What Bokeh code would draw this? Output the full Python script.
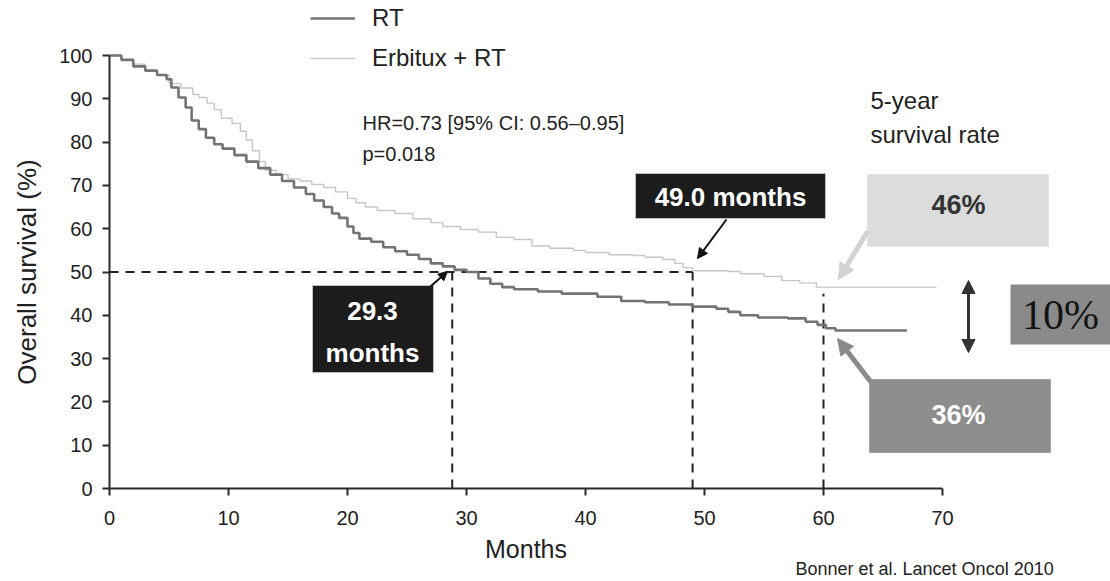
from bokeh.plotting import figure
from bokeh.models import Range1d, Label, Arrow, NormalHead, Legend, LegendItem, FixedTicker
from bokeh.embed import file_html
from bokeh.resources import INLINE

# ---- data ----
rt_months = [0, 1, 2, 3, 4, 4.8, 5.2, 5.8, 6.4, 6.9, 7.5, 8.1, 8.8, 9.5, 10.5, 11.5, 12.5,
             13.5, 14.5, 15.5, 16.5, 17.2, 18, 18.7, 19.3, 20, 20.5, 21, 22, 23, 24, 25,
             26, 27, 28, 29, 30, 31, 32, 33, 34, 36, 38, 41, 43, 45, 47, 49, 51, 52, 53,
             54.5, 57, 58.5, 59.5, 60.2, 61, 67]
rt_surv = [100, 99, 97.5, 96.5, 95.5, 94.5, 92.6, 90.3, 88, 85, 83, 81, 79.5, 78.5, 77, 75.5,
           74, 72.5, 71, 69.5, 68, 66.5, 65, 63.5, 62.5, 60.5, 59, 57.7, 57, 55.7, 54.8, 54,
           53, 52, 51.3, 50.5, 50, 48.5, 47.3, 46.5, 46, 45.5, 45, 44.3, 43.3, 43, 42.5, 42,
           41.5, 40.8, 40, 39.5, 39.3, 38.5, 37.8, 37, 36.5, 36.5]

erb_months = [0, 1, 2, 3, 4, 5, 6, 7, 7.5, 8.2, 8.8, 9.4, 10.3, 11, 11.5, 12, 12.6, 13.1, 14,
              15, 16, 17, 18, 19, 20, 20.7, 21.5, 22.5, 24, 25.5, 27, 28, 29.5, 31, 32.5, 34,
              35.5, 37, 39, 40, 42, 44, 45, 46.5, 47.5, 48.2, 49, 52, 53, 55, 56.5, 58, 59.4,
              69.5]
erb_surv = [100, 99, 98, 96.5, 95.5, 93.5, 92.5, 91, 90.3, 89, 87.5, 85.5, 84.3, 82.5, 80.5,
            78, 75.5, 73.5, 72.5, 71.5, 71, 70.2, 69.5, 68.5, 67, 66, 65, 64.2, 63.5, 62.3,
            61.4, 60.5, 59.8, 59.2, 58, 57.5, 56, 55.5, 55, 54.5, 54, 53.8, 53.4, 52.9, 52,
            51, 50.3, 50.1, 49.6, 49, 48, 47.5, 46.5, 46.5]

x_ticks = [0, 10, 20, 30, 40, 50, 60, 70]
y_ticks = [0, 10, 20, 30, 40, 50, 60, 70, 80, 90, 100]
median_rt = 28.8
median_erb = 49.0
five_year_mark = 60
five_year_line_top = 45
rt_label = "RT"
erb_label = "Erbitux + RT"

# ---- pixel helpers for annotation placement ----
X0, SX, Y0, SY = 109, 11.9, 488, 4.33
W, H = 1110, 581
def dx(px):
    return (px - X0) / SX
def dy(py):
    return (Y0 - py) / SY

FONT = "Liberation Sans"

p = figure(width=W, height=H, output_backend="svg", toolbar_location=None,
           x_range=Range1d(dx(0), dx(W)), y_range=Range1d(dy(H), dy(0)),
           min_border_left=0, min_border_right=0, min_border_top=0, min_border_bottom=0)
p.outline_line_color = None
p.xgrid.visible = False
p.ygrid.visible = False
p.background_fill_color = "white"
p.border_fill_color = "white"

for ax in (p.xaxis[0], p.yaxis[0]):
    ax.axis_line_width = 2
    ax.axis_line_color = "#2b2b2b"
    ax.major_tick_line_color = "#2b2b2b"
    ax.major_tick_line_width = 2
    ax.major_tick_in = 0
    ax.major_tick_out = 7
    ax.minor_tick_line_color = None
    ax.major_label_text_font = FONT
    ax.major_label_text_font_size = "20px"
    ax.major_label_text_color = "#222222"
    ax.axis_label_text_font = FONT
    ax.axis_label_text_font_style = "normal"
    ax.axis_label_text_color = "#222222"

p.xaxis.fixed_location = 0
p.yaxis.fixed_location = 0
p.xaxis.bounds = (0, 70)
p.yaxis.bounds = (0, 100)
p.xaxis.ticker = FixedTicker(ticks=x_ticks)
p.yaxis.ticker = FixedTicker(ticks=y_ticks)
p.xaxis.axis_label = "Months"
p.yaxis.axis_label = "Overall survival (%)"
p.xaxis.axis_label_text_font_size = "25px"
p.yaxis.axis_label_text_font_size = "26px"
p.xaxis.major_label_standoff = 15
p.yaxis.major_label_standoff = 10
p.xaxis.axis_label_standoff = 7
p.yaxis.axis_label_standoff = 14

# dashed reference lines
dash = dict(line_color="#222222", line_width=2, line_dash="9 7")
p.line([0, median_erb], [50, 50], **dash)
p.line([median_rt, median_rt], [0, 50], **dash)
p.line([median_erb, median_erb], [0, 50], **dash)
p.line([five_year_mark, five_year_mark], [0, five_year_line_top], **dash)

# curves
r_erb = p.step(erb_months, erb_surv, mode="after", line_color="#c6c6c6", line_width=1.4)
r_rt = p.step(rt_months, rt_surv, mode="after", line_color="#737373", line_width=2.6)

legend = Legend(items=[LegendItem(label=rt_label, renderers=[r_rt]),
                       LegendItem(label=erb_label, renderers=[r_erb])],
                location=(310, H - 72), orientation="vertical",
                label_text_font=FONT, label_text_font_size="24px", label_text_color="#222222",
                glyph_width=45, glyph_height=24, label_height=24, spacing=12,
                label_standoff=17, padding=0, margin=0,
                border_line_color=None, background_fill_alpha=0)
p.add_layout(legend)

def label(x, y, text, size="18px", color="#222222", style="normal", align="left", font=FONT):
    p.add_layout(Label(x=x, y=y, text=text, text_font=font, text_font_size=size,
                       text_color=color, text_font_style=style, text_align=align,
                       text_baseline="middle"))

label(dx(362), dy(122), "HR=0.73 [95% CI: 0.56–0.95]", size="20px")
label(dx(362), dy(153), "p=0.018", size="20px")
label(dx(870), dy(100), "5-year", size="24px")
label(dx(870), dy(134), "survival rate", size="24px")

# boxes
def box(l, r, t, b, fill, line=None):
    p.quad(left=dx(l), right=dx(r), top=dy(t), bottom=dy(b), fill_color=fill,
           line_color=line, line_width=1)

box(635, 825, 173, 218, "#1c1c1c", "#bdbdbd")
label(dx(730), dy(196), "49.0 months", size="26px", color="white", style="bold", align="center")
box(312, 433, 285, 372, "#1c1c1c", "#bdbdbd")
label(dx(372), dy(310), "29.3", size="26px", color="white", style="bold", align="center")
label(dx(372), dy(352), "months", size="26px", color="white", style="bold", align="center")

box(867, 1048, 174, 246, "#dcdcdc", "#e4e4e4")
label(dx(958), dy(204), "46%", size="27px", color="#333333", style="bold", align="center")
box(869, 1050, 379, 452, "#8d8d8d", "#a0a0a0")
label(dx(958), dy(414), "36%", size="27px", color="white", style="bold", align="center")
box(1010, 1110, 284, 344, "#8a8a8a")
label(dx(1060), dy(314), "10%", size="42px", color="#141414", align="center",
      font="Liberation Serif")

# arrows
def arrow(x1, y1, x2, y2, color, width, size, both=False):
    head = lambda: NormalHead(size=size, fill_color=color, line_color=color)
    p.add_layout(Arrow(x_start=dx(x1), y_start=dy(y1), x_end=dx(x2), y_end=dy(y2),
                       line_color=color, line_width=width, end=head(),
                       start=head() if both else None))

arrow(430, 286, 447, 271, "#111111", 2, 9)
arrow(726, 219, 697, 258, "#111111", 2, 10)
arrow(867, 231, 838, 279, "#d2d2d2", 5, 16)
arrow(870, 381, 837, 338, "#8a8a8a", 5, 16)
arrow(968, 280, 968, 352, "#333333", 3, 13, both=True)

label(dx(795), dy(568), "Bonner et al. Lancet Oncol 2010", size="18px", color="#222222")

open("out.html", "w").write(file_html(p, INLINE))
